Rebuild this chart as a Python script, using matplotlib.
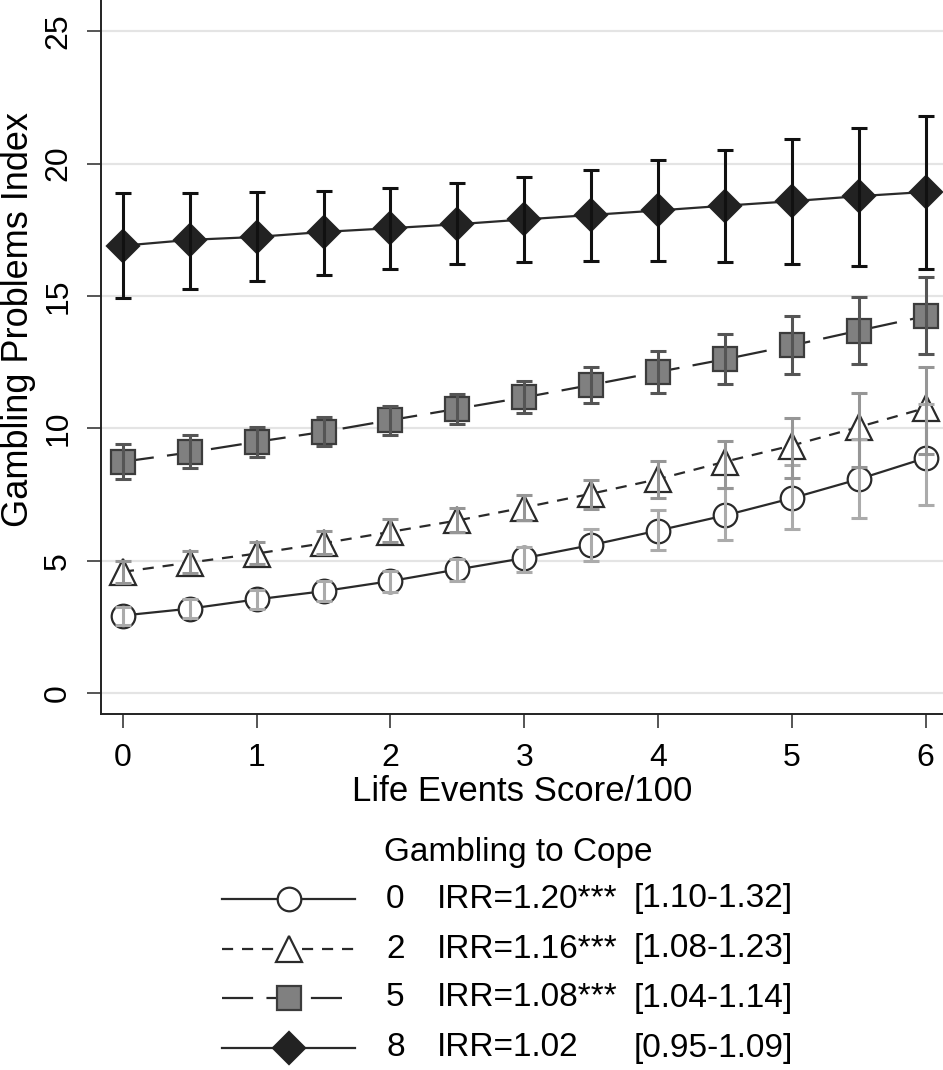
import matplotlib.pyplot as plt

plt.rcParams['font.family'] = ['Liberation Sans', 'DejaVu Sans']

# Predicted Gambling Problems Index by life events score, per level of gambling to cope
life_events = [0, 0.5, 1, 1.5, 2, 2.5, 3, 3.5, 4, 4.5, 5, 5.5, 6]

cope_levels = ["0", "2", "5", "8"]
irr_text = ["IRR=1.20***", "IRR=1.16***", "IRR=1.08***", "IRR=1.02"]
ci_text = ["[1.10-1.32]", "[1.08-1.23]", "[1.04-1.14]", "[0.95-1.09]"]

cope0_mean = [2.93, 3.19, 3.54, 3.85, 4.23, 4.67, 5.10, 5.59, 6.14, 6.71, 7.36, 8.08, 8.88]
cope0_low = [2.59, 2.85, 3.19, 3.49, 3.80, 4.23, 4.58, 4.98, 5.40, 5.79, 6.19, 6.61, 7.10]
cope0_high = [3.24, 3.54, 3.89, 4.23, 4.63, 5.05, 5.53, 6.19, 6.92, 7.76, 8.61, 9.61, 10.91]

cope2_mean = [4.58, 4.93, 5.27, 5.66, 6.09, 6.52, 7.01, 7.53, 8.08, 8.74, 9.35, 10.05, 10.77]
cope2_low = [4.15, 4.53, 4.88, 5.27, 5.71, 6.09, 6.54, 6.96, 7.36, 7.76, 8.14, 8.55, 9.04]
cope2_high = [4.98, 5.36, 5.71, 6.14, 6.58, 7.01, 7.48, 8.05, 8.78, 9.52, 10.39, 11.33, 12.30]

cope5_mean = [8.74, 9.09, 9.49, 9.87, 10.31, 10.74, 11.17, 11.64, 12.13, 12.61, 13.13, 13.69, 14.24]
cope5_low = [8.10, 8.52, 8.92, 9.35, 9.75, 10.18, 10.57, 10.95, 11.35, 11.69, 12.07, 12.42, 12.79]
cope5_high = [9.39, 9.73, 10.05, 10.43, 10.83, 11.29, 11.78, 12.30, 12.91, 13.57, 14.24, 14.97, 15.72]

cope8_mean = [16.90, 17.12, 17.23, 17.42, 17.56, 17.71, 17.89, 18.06, 18.23, 18.41, 18.58, 18.77, 18.93]
cope8_low = [14.94, 15.25, 15.56, 15.80, 16.03, 16.19, 16.27, 16.33, 16.33, 16.29, 16.22, 16.13, 16.03]
cope8_high = [18.89, 18.88, 18.91, 18.98, 19.08, 19.26, 19.50, 19.76, 20.12, 20.51, 20.92, 21.34, 21.81]

series = [
    (cope0_mean, cope0_low, cope0_high),
    (cope2_mean, cope2_low, cope2_high),
    (cope5_mean, cope5_low, cope5_high),
    (cope8_mean, cope8_low, cope8_high),
]

# styles per level
markers = ["o", "^", "s", "D"]
marker_sizes = [17, 19, 17, 16]
face_colors = ["white", "white", "#808080", "#222222"]
edge_colors = ["#2a2a2a", "#2a2a2a", "#3c3c3c", "#222222"]
line_styles = ["-", (0, (5, 4)), (0, (14, 6)), "-"]
bar_colors = ["#ababab", "#969696", "#555555", "#111111"]

fig = plt.figure(figsize=(9.43, 10.70), dpi=100)
ax = fig.add_axes([101 / 943, 1 - 714 / 1070, 842 / 943, 714 / 1070])

for i, (mean, low, high) in enumerate(series):
    ax.plot(life_events, mean, color="#2a2a2a", lw=1.6, linestyle=line_styles[i], zorder=3)
    ax.plot(life_events, mean, linestyle="none", marker=markers[i], ms=marker_sizes[i],
            mfc=face_colors[i], mec=edge_colors[i], mew=1.6, zorder=4)
    err_low = [m - l for m, l in zip(mean, low)]
    err_high = [h - m for m, h in zip(mean, high)]
    ax.errorbar(life_events, mean, yerr=[err_low, err_high], fmt="none",
                ecolor=bar_colors[i], elinewidth=2.2, capsize=6, capthick=2.2, zorder=5)

ax.set_xlim(-0.164, 6.13)
ax.set_ylim(-0.79, 26.18)
ax.set_xticks([0, 1, 2, 3, 4, 5, 6])
ax.set_yticks([0, 5, 10, 15, 20, 25])
ax.grid(axis="y", color="#e4e4e4", lw=1.6)
ax.set_axisbelow(True)

for side in ["top", "right"]:
    ax.spines[side].set_visible(False)
for side in ["left", "bottom"]:
    ax.spines[side].set_color("#222222")
    ax.spines[side].set_linewidth(1.4)

ax.tick_params(axis="both", length=10, width=1.4, color="#555555", labelsize=23)
ax.tick_params(axis="x", pad=11)
ax.tick_params(axis="y", pad=10)
for lbl in ax.get_yticklabels():
    lbl.set_rotation(90)
    lbl.set_va("center")

ax.set_xlabel("Life Events Score/100", fontsize=25)
ax.xaxis.set_label_coords(0.5, -0.085)
ax.set_ylabel("Gambling Problems Index", fontsize=26)
ax.yaxis.set_label_coords(-0.077, 0.552)

# legend drawn below the plot in pixel coordinates
lax = fig.add_axes([0, 0, 1, 1])
lax.set_xlim(0, 943)
lax.set_ylim(1070, 0)
lax.axis("off")
lax.patch.set_visible(False)

lax.text(518, 852, "Gambling to Cope", fontsize=24, ha="center", va="center")
row_y = [899, 949, 998, 1048]
for i in range(4):
    y = row_y[i]
    lax.plot([222, 355], [y, y], color="#2a2a2a", lw=1.6, linestyle=line_styles[i])
    lax.plot([289], [y], linestyle="none", marker=markers[i], ms=marker_sizes[i],
             mfc=face_colors[i], mec=edge_colors[i], mew=1.6)
    lax.text(386, y, cope_levels[i], fontsize=24, va="center")
    lax.text(437, y, irr_text[i], fontsize=24, va="center")
    lax.text(634, y, ci_text[i], fontsize=24, va="center")

fig.savefig("out.png", dpi=100)
